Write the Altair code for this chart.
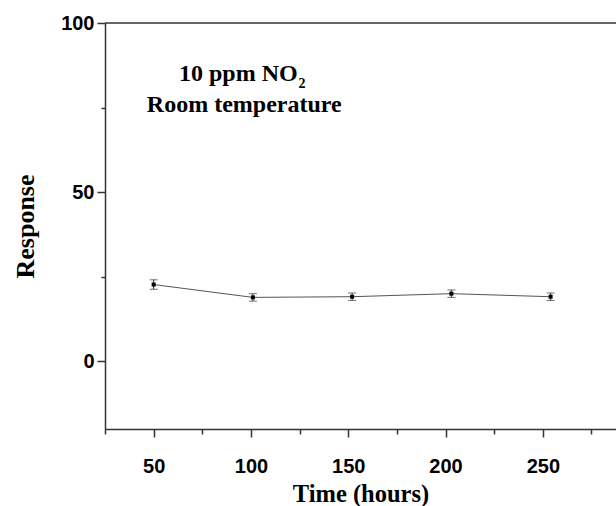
import altair as alt
import pandas as pd

# Sensor response to 10 ppm NO2 over time at room temperature
hours = [50, 101, 152, 203, 254]
response = [22.7, 18.9, 19.1, 20.0, 19.1]
error = [1.4, 1.1, 1.1, 1.1, 1.1]

x_ticks = [25, 50, 75, 100, 125, 150, 175, 200, 225, 250, 275]
y_ticks = [0, 25, 50, 75, 100]

# Annotation text and anchor positions (in data units)
note_text = ["10 ppm NO", "Room temperature"]
note_x = [63.0, 46.5]
note_y = [83.0, 73.6]
sub_text = ["2"]
sub_x = [124.5]
sub_y = [80.8]

df = pd.DataFrame({"hours": hours, "response": response, "err": error})
df["lo"] = df["response"] - df["err"]
df["hi"] = df["response"] + df["err"]

notes = pd.DataFrame({"t": note_text, "x": note_x, "y": note_y})
subs = pd.DataFrame({"t": sub_text, "x": sub_x, "y": sub_y})

AXIS_COLOR = "#333333"
LABEL_FONT = "Liberation Sans"
TITLE_FONT = "Liberation Serif"

x_scale = alt.Scale(domain=[25, 287.6], nice=False, zero=False)
y_scale = alt.Scale(domain=[-20, 100], nice=False, zero=False)

x_axis = alt.Axis(
    title="Time (hours)",
    values=x_ticks,
    labelExpr="datum.value % 50 === 0 ? datum.label : ''",
    tickSize={"condition": {"test": "datum.value % 50 === 0", "value": 8}, "value": 5},
    tickColor=AXIS_COLOR,
    tickWidth=1.5,
    domainColor=AXIS_COLOR,
    domainWidth=1.5,
    labelFont=LABEL_FONT,
    labelFontWeight="bold",
    labelFontSize=20,
    labelColor="black",
    labelPadding=19,
    titleFont=TITLE_FONT,
    titleFontWeight="bold",
    titleFontSize=24.5,
    titleColor="black",
    titlePadding=6,
    grid=False,
)

y_axis = alt.Axis(
    title="Response",
    values=y_ticks,
    labelExpr="datum.value % 50 === 0 ? datum.label : ''",
    tickSize={"condition": {"test": "datum.value % 50 === 0", "value": 8}, "value": 4},
    tickColor=AXIS_COLOR,
    tickWidth=1.5,
    domainColor=AXIS_COLOR,
    domainWidth=1.5,
    labelFont=LABEL_FONT,
    labelFontWeight="bold",
    labelFontSize=20,
    labelColor="black",
    labelPadding=3,
    titleFont=TITLE_FONT,
    titleFontWeight="bold",
    titleFontSize=26,
    titleColor="black",
    titlePadding=22,
    grid=False,
)

base = alt.Chart(df)

line = base.mark_line(color="#555555", strokeWidth=1).encode(
    x=alt.X("hours:Q", scale=x_scale, axis=x_axis),
    y=alt.Y("response:Q", scale=y_scale, axis=y_axis),
)

bars = base.mark_rule(color="#333333", strokeWidth=1).encode(
    x="hours:Q", y="lo:Q", y2="hi:Q"
)

cap_lo = base.mark_tick(color="#333333", orient="horizontal", size=8, thickness=1).encode(
    x="hours:Q", y="lo:Q"
)
cap_hi = base.mark_tick(color="#333333", orient="horizontal", size=8, thickness=1).encode(
    x="hours:Q", y="hi:Q"
)

points = base.mark_square(color="black", size=16, opacity=1).encode(
    x="hours:Q", y="response:Q"
)

# Upper frame line at the top of the y range
top_line = alt.Chart(pd.DataFrame({"y": [100]})).mark_rule(
    color=AXIS_COLOR, strokeWidth=1.5
).encode(y="y:Q")

note_marks = alt.Chart(notes).mark_text(
    font=TITLE_FONT, fontWeight="bold", fontSize=24, align="left",
    baseline="alphabetic", color="black"
).encode(x="x:Q", y="y:Q", text="t:N")

sub_marks = alt.Chart(subs).mark_text(
    font=TITLE_FONT, fontWeight="bold", fontSize=14, align="left",
    baseline="alphabetic", color="black"
).encode(x="x:Q", y="y:Q", text="t:N")

chart = alt.layer(
    line, bars, cap_lo, cap_hi, points, top_line, note_marks, sub_marks
).properties(
    width=511,
    height=406,
    autosize=alt.AutoSizeParams(type="none"),
    padding={"left": 105, "top": 23, "right": 0, "bottom": 77},
    background="white",
).configure_view(stroke=None)

chart.save("out.html", embed_options={"renderer": "svg", "actions": False})
